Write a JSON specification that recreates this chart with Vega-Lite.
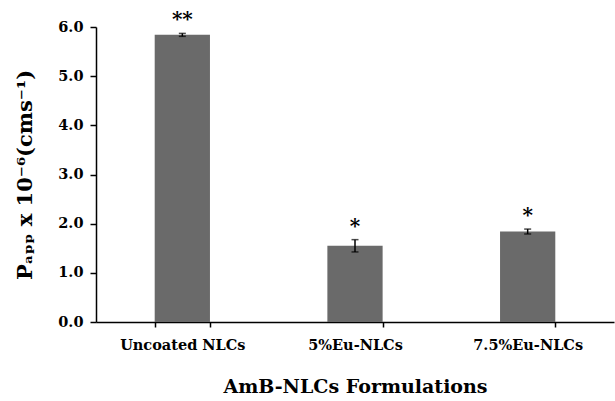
{
  "$schema": "https://vega.github.io/schema/vega-lite/v6.json",
  "autosize": {"type": "none"},
  "width": 518,
  "height": 295,
  "padding": {"left": 96, "top": 27, "right": 1, "bottom": 79},
  "background": "white",
  "config": {
    "view": {"stroke": null},
    "font": "DejaVu Serif"
  },
  "data": {
    "values": [
      {"formulation": "Uncoated NLCs", "papp": 5.84, "err": 0.03, "sig": "**"},
      {"formulation": "5%Eu-NLCs", "papp": 1.55, "err": 0.125, "sig": "*"},
      {"formulation": "7.5%Eu-NLCs", "papp": 1.84, "err": 0.05, "sig": "*"}
    ]
  },
  "transform": [
    {"calculate": "datum.papp - datum.err", "as": "lo"},
    {"calculate": "datum.papp + datum.err", "as": "hi"}
  ],
  "encoding": {
    "x": {
      "field": "formulation",
      "type": "nominal",
      "sort": null,
      "scale": {"paddingInner": 0.68, "paddingOuter": 0.34},
      "axis": {
        "title": "AmB-NLCs Formulations",
        "labelAngle": 0,
        "labelFont": "DejaVu Serif",
        "labelFontSize": 14.5,
        "labelFontWeight": "bold",
        "labelColor": "black",
        "labelPadding": 11,
        "titleFont": "DejaVu Serif",
        "titleFontSize": 19,
        "titleFontWeight": "bold",
        "titleColor": "black",
        "titlePadding": 26,
        "domainColor": "black",
        "domainWidth": 1.5,
        "tickColor": "black",
        "tickWidth": 1.5,
        "tickSize": 5,
        "tickBand": "extent"
      }
    }
  },
  "layer": [
    {
      "mark": {"type": "bar", "color": "#6a6a6a"},
      "encoding": {
        "y": {
          "field": "papp",
          "type": "quantitative",
          "scale": {"domain": [0, 6]},
          "axis": {
            "title": "Pₐₚₚ x 10⁻⁶(cms⁻¹)",
            "values": [0, 1, 2, 3, 4, 5, 6],
            "format": ".1f",
            "grid": false,
            "labelFont": "DejaVu Serif",
            "labelFontSize": 14.5,
            "labelFontWeight": "bold",
            "labelColor": "black",
            "labelPadding": 7,
            "titleFont": "DejaVu Serif",
            "titleFontSize": 21,
            "titleFontWeight": "bold",
            "titleColor": "black",
            "titlePadding": 22,
            "domainColor": "black",
            "domainWidth": 1.5,
            "tickColor": "black",
            "tickWidth": 1.5,
            "tickSize": 6
          }
        }
      }
    },
    {
      "mark": {"type": "rule", "color": "black", "strokeWidth": 1.5},
      "encoding": {
        "y": {"field": "lo", "type": "quantitative"},
        "y2": {"field": "hi"}
      }
    },
    {
      "mark": {"type": "tick", "color": "black", "thickness": 1.5, "size": 7},
      "encoding": {
        "y": {"field": "lo", "type": "quantitative"}
      }
    },
    {
      "mark": {"type": "tick", "color": "black", "thickness": 1.5, "size": 7},
      "encoding": {
        "y": {"field": "hi", "type": "quantitative"}
      }
    },
    {
      "mark": {"type": "text", "font": "DejaVu Serif", "fontSize": 20, "fontWeight": "bold", "baseline": "bottom", "dy": -3, "color": "black"},
      "encoding": {
        "y": {"field": "hi", "type": "quantitative"},
        "text": {"field": "sig"}
      }
    }
  ]
}
